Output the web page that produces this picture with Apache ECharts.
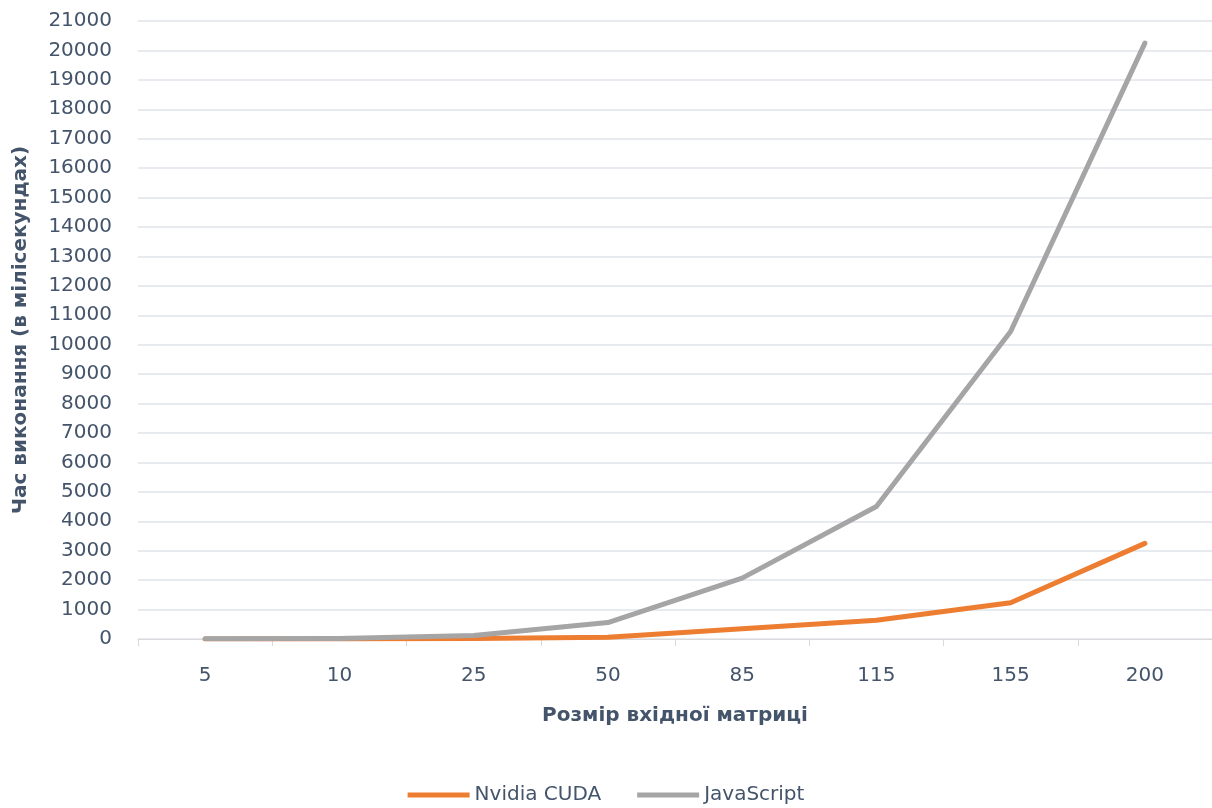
<!DOCTYPE html>
<html><head><meta charset="utf-8">
<script src="https://cdn.jsdelivr.net/npm/echarts@6/dist/echarts.min.js"></script>
<style>html,body{margin:0;padding:0;background:#fff}#c{width:1212px;height:808px}</style>
</head><body><div id="c"></div>
<script>
const categories = ['5','10','25','50','85','115','155','200'];
const cudaValues = [1, 3, 15, 60, 350, 640, 1230, 3250];
const jsValues = [5, 20, 120, 560, 2070, 4500, 10450, 20250];
const seriesNames = ['Nvidia CUDA', 'JavaScript'];
const xTitle = 'Розмір вхідної матриці';
const yTitle = 'Час виконання (в мілісекундах)';

const txt = '#44546a';
const font = '"DejaVu Sans", "Open Sans", sans-serif';
const chart = echarts.init(document.getElementById('c'), null, {renderer:'canvas'});
chart.setOption({
  animation: false,
  textStyle: {fontFamily: font},
  grid: {left: 138, right: 0, top: 21, bottom: 169, containLabel: false, outerBoundsMode: 'none'},
  legend: {
    top: 780, left: 'center', itemWidth: 62, itemHeight: 5, itemGap: 36,
    icon: 'rect',
    textStyle: {color: txt, fontSize: 20, fontFamily: font},
    data: seriesNames
  },
  xAxis: {
    type: 'category', data: categories, boundaryGap: true,
    name: xTitle, nameLocation: 'middle', nameGap: 67,
    nameTextStyle: {color: txt, fontSize: 20, fontWeight: 'bold', fontFamily: font},
    axisLine: {lineStyle: {color: '#d9d9d9', width: 1}},
    axisTick: {show: true, length: 7, lineStyle: {color: '#d9d9d9'}},
    axisLabel: {color: txt, fontSize: 20, margin: 27, fontFamily: font}
  },
  yAxis: {
    type: 'value', min: 0, max: 21000, interval: 1000,
    name: yTitle, nameLocation: 'middle', nameGap: 107, nameRotate: 90,
    nameTextStyle: {color: txt, fontSize: 20, fontWeight: 'bold', fontFamily: font},
    axisLine: {show: false}, axisTick: {show: false},
    axisLabel: {color: txt, fontSize: 20, margin: 26, fontFamily: font, formatter: v => String(v)},
    splitLine: {lineStyle: {color: '#dfe3ea', width: 1.5}}
  },
  series: [
    {name: seriesNames[0], type: 'line', data: cudaValues, showSymbol: false, symbol: 'none',
     lineStyle: {color: '#ed7d31', width: 5, cap: 'round', join: 'round'}, itemStyle: {color: '#ed7d31'}, z: 2},
    {name: seriesNames[1], type: 'line', data: jsValues, showSymbol: false, symbol: 'none',
     lineStyle: {color: '#a5a5a5', width: 5, cap: 'round', join: 'round'}, itemStyle: {color: '#a5a5a5'}, z: 3}
  ]
});
</script></body></html>
